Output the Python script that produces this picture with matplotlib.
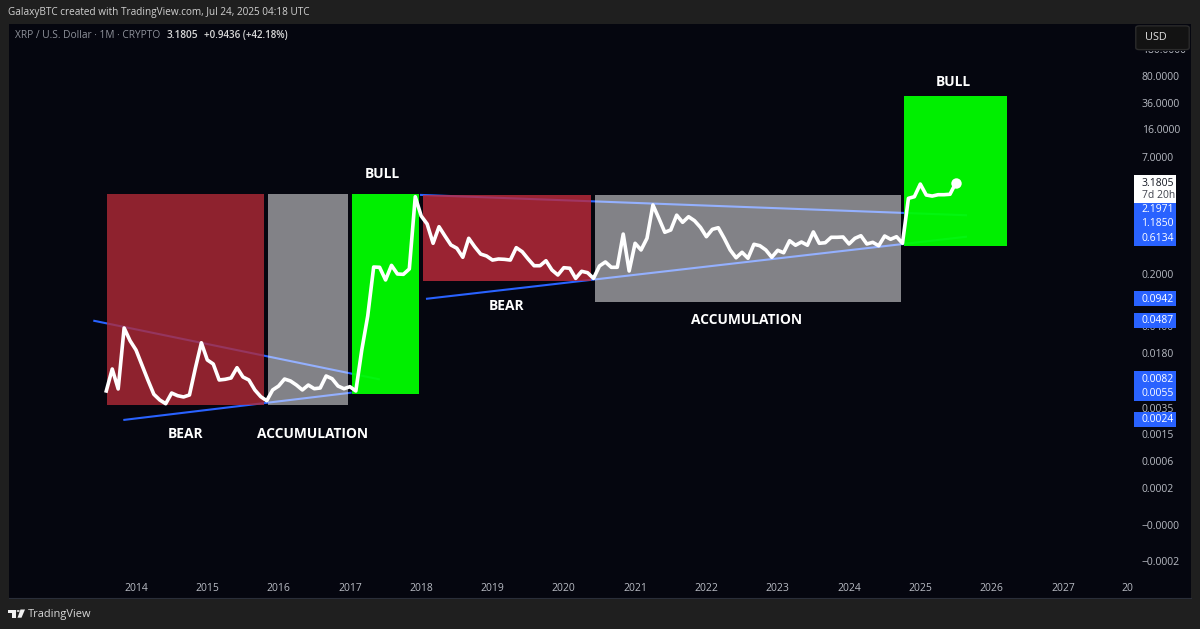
import numpy as np
import pandas as pd
import matplotlib
matplotlib.use('Agg')
import matplotlib.pyplot as plt
from matplotlib.patches import Rectangle, Polygon, Circle, FancyBboxPatch

plt.rcParams['font.family'] = ['Open Sans', 'DejaVu Sans']

W, H = 1200, 629
PANEL_L, PANEL_R, PANEL_T, PANEL_B = 9, 1191, 24, 598

# monthly closes, Aug 2013 - Jul 2025
closes = [0.00578, 0.01125, 0.00614, 0.0390, 0.0265, 0.0200, 0.0127, 0.00806, 0.00523, 0.00440,
          0.00393, 0.00543, 0.00501, 0.00482, 0.00512, 0.0116, 0.0249, 0.0148, 0.0131, 0.00806,
          0.00823, 0.00857, 0.0117, 0.00883, 0.00806, 0.00596, 0.00486, 0.00430, 0.00596, 0.00671,
          0.00830, 0.00782, 0.00692, 0.00596, 0.00692, 0.00619, 0.00632, 0.00910, 0.00838, 0.00671,
          0.00619, 0.00658, 0.00578, 0.0200, 0.0560, 0.247, 0.245, 0.167, 0.260, 0.200,
          0.198, 0.233, 2.08, 1.16, 0.910, 0.507, 0.838, 0.632, 0.482, 0.436,
          0.332, 0.590, 0.457, 0.366, 0.345, 0.305, 0.315, 0.312, 0.305, 0.444,
          0.393, 0.315, 0.257, 0.257, 0.299, 0.226, 0.194, 0.242, 0.238, 0.175,
          0.217, 0.208, 0.175, 0.255, 0.288, 0.245, 0.245, 0.671, 0.219, 0.507,
          0.414, 0.590, 1.62, 1.08, 0.708, 0.759, 1.19, 0.957, 1.135, 1.005,
          0.822, 0.619, 0.774, 0.813, 0.590, 0.414, 0.327, 0.386, 0.322, 0.492,
          0.471, 0.414, 0.332, 0.410, 0.381, 0.548, 0.478, 0.527, 0.478, 0.715,
          0.507, 0.516, 0.608, 0.608, 0.614, 0.497, 0.590, 0.638, 0.497, 0.522,
          0.471, 0.632, 0.573, 0.619, 0.507, 1.98, 2.08, 3.05, 2.19, 2.12,
          2.21, 2.21, 2.24, 3.1805]
dates = pd.date_range('2013-08-01', periods=len(closes), freq='MS')

# zones: year start, year end, price low, price high
zone_names = ['bear1', 'acc1', 'bull1', 'bear2', 'acc2', 'bull2']
zone_x0 = [2013.593, 2015.847, 2017.025, 2018.021, 2020.438, 2024.775]
zone_x1 = [2015.802, 2016.973, 2017.973, 2020.386, 2024.729, 2026.215]
zone_lo = [0.00381, 0.00381, 0.00527, 0.160, 0.0849, 0.471]
zone_hi = [2.258, 2.258, 2.258, 2.22, 2.17, 44.0]
zone_colors = ['#b12a37', '#ffffff', '#00ff00', '#c02b3c', '#ffffff', '#00ff00']
zone_alpha = [0.8, 0.5, 0.94, 0.8, 0.5, 0.94]

# trend lines
trend_x = [[2013.401, 2017.42], [2013.822, 2017.025], [2017.983, 2025.655], [2018.067, 2025.655]]
trend_y = [[0.0487, 0.0082], [0.0024, 0.0055], [2.1971, 1.185], [0.0942, 0.62]]

# axis ticks
year_ticks = [2014, 2015, 2016, 2017, 2018, 2019, 2020, 2021, 2022, 2023, 2024, 2025, 2026, 2027, 2027.9]
year_labels = ['2014', '2015', '2016', '2017', '2018', '2019', '2020', '2021', '2022', '2023', '2024',
               '2025', '2026', '2027', '20']
price_ticks = [183, 80, 36, 16, 7, 0.52, 0.2, 0.042, 0.018, 0.0035, 0.00158, 0.00069, 0.000305, 0.0001, 0.0000335]
price_labels = ['180.0000', '80.0000', '36.0000', '16.0000', '7.0000', '0.5000', '0.2000', '0.0400', '0.0180',
                '0.0035', '0.0015', '0.0006', '0.0002', '\u22120.0000', '\u22120.0002']


def fx(px):
    return px / W


def fy(py):
    return 1 - py / H


def year_at(px):
    return 2014 + (px - 136) / 71.3


def price_at(py):
    return 0.2 * 10 ** ((274 - py) / 76)


fig = plt.figure(figsize=(W / 100, H / 100), dpi=100, facecolor='#1f1f1f')
ax = fig.add_axes([fx(PANEL_L), fy(PANEL_B), fx(PANEL_R - PANEL_L), (PANEL_B - PANEL_T) / H], facecolor='#05060f')
ax.set_yscale('log')
ax.set_xlim(year_at(PANEL_L), year_at(PANEL_R))
ax.set_ylim(price_at(PANEL_B), price_at(PANEL_T))
for s in ax.spines.values():
    s.set_visible(False)
ax.spines['bottom'].set_visible(True)
ax.spines['bottom'].set_color('#2a2e39')

for xs, ys in zip(trend_x, trend_y):
    ax.plot(xs, ys, color='#2962ff', lw=1.5, zorder=2, solid_capstyle='butt')

for i in range(len(zone_names)):
    ax.add_patch(Rectangle((zone_x0[i], zone_lo[i]), zone_x1[i] - zone_x0[i], zone_hi[i] - zone_lo[i],
                           facecolor=zone_colors[i], alpha=zone_alpha[i], lw=0, zorder=3))

years = dates.year + (dates.month - 1) / 12
ax.plot(years, closes, color='white', lw=2.6, zorder=5, solid_joinstyle='round')
ax.plot(years[-1], closes[-1], 'o', color='white', ms=7.5, mew=0, zorder=6)

# pads are in points, the labels sit inside the panel
ax.xaxis.set_ticks(year_ticks, labels=year_labels)
ax.minorticks_off()
ax.tick_params(axis='x', length=0, pad=-10.5, labelsize=7.5, labelcolor='#b8bbc3')
ax.yaxis.tick_right()
ax.yaxis.set_ticks(price_ticks, labels=price_labels)
ax.tick_params(axis='y', which='both', length=0, pad=-35.5, labelsize=7.5, labelcolor='#b8bbc3')
ax.tick_params(axis='y', which='minor', labelright=False, right=False)

# zone captions
captions = [('BULL', 382, 174.5), ('BULL', 953, 81.5), ('BEAR', 186, 433.5), ('BEAR', 507, 306.5),
            ('ACCUMULATION', 313, 434.5), ('ACCUMULATION', 747, 320.5)]
for txt, px, py in captions:
    fig.text(fx(px), fy(py), txt, color='white', fontsize=9.9, fontweight='bold', ha='center', va='center', zorder=7)

# last value / line end labels on the price scale
boxes = [(291, 306.3), (312.7, 328.3), (371, 401), (411.7, 427), (202.7, 245.7)]
for top, bot in boxes:
    fig.add_artist(Rectangle((fx(1134), fy(bot)), 42 / W, (bot - top) / H, transform=fig.transFigure,
                             facecolor='#2962ff', lw=0, zorder=5))
fig.add_artist(Rectangle((fx(1134), fy(202.7)), 42 / W, 27.4 / H, transform=fig.transFigure,
                         facecolor='white', lw=0, zorder=5))
fig.text(fx(1141.5), fy(183), '3.1805', color='#131722', fontsize=7.5, va='center', zorder=6)
fig.text(fx(1141.5), fy(195), '7d 20h', color='#40434d', fontsize=7.5, va='center', zorder=6)
line_labels = [('2.1971', 209.5), ('1.1850', 224), ('0.6134', 238.5), ('0.0942', 299), ('0.0487', 320.5),
               ('0.0082', 379), ('0.0055', 394), ('0.0024', 419.5)]
for txt, py in line_labels:
    fig.text(fx(1141.5), fy(py), txt, color='white', fontsize=7.5, fontweight='medium', va='center', zorder=6)

# currency button, sits over the top tick label
fig.add_artist(Rectangle((fx(1134), fy(50.5)), 57 / W, 26.5 / H, transform=fig.transFigure,
                         facecolor='#05060f', lw=0, zorder=5))
fig.add_artist(FancyBboxPatch((fx(1137), fy(49)), 51 / W, 22.5 / H, transform=fig.transFigure,
                              boxstyle='round,pad=0.001,rounding_size=0.003', facecolor='#131313',
                              edgecolor='#2b2b2b', lw=1, zorder=5))
fig.text(fx(1145), fy(37.5), 'USD', color='#e0e0e0', fontsize=7.8, va='center', zorder=6)

# header
fig.text(fx(8), fy(13), 'GalaxyBTC created with TradingView.com, Jul 24, 2025 04:18 UTC', color='#d0d0d0',
         fontsize=7.2, va='center')
fig.text(fx(15), fy(36), 'XRP / U.S. Dollar \u00b7 1M \u00b7 CRYPTO', color='#8f929b', fontsize=7.3, va='center')
fig.text(fx(167), fy(36), '3.1805', color='#d8d8d8', fontsize=7.3, va='center', fontweight='semibold')
fig.text(fx(204), fy(36), '+0.9436 (+42.18%)', color='#d8d8d8', fontsize=7.1, va='center', fontweight='semibold')

# footer logo
logo = [[(8.3, 609.5), (16, 609.5), (16, 617.7), (12, 617.7), (12, 612.7), (8.3, 612.7)],
        [(20.5, 609.5), (25, 609.5), (21.5, 617.7), (17.5, 617.7)]]
for pts in logo:
    fig.add_artist(Polygon([(fx(a), fy(b)) for a, b in pts], transform=fig.transFigure, facecolor='#f0f0f0', lw=0))
fig.add_artist(Circle((fx(18.2), fy(611)), 1.6 / W, transform=fig.transFigure, facecolor='#f0f0f0', lw=0))
fig.text(fx(28), fy(614), 'TradingView', color='#d8d8d8', fontsize=7.9, va='center')

fig.savefig('out.png', dpi=100, facecolor=fig.get_facecolor())
